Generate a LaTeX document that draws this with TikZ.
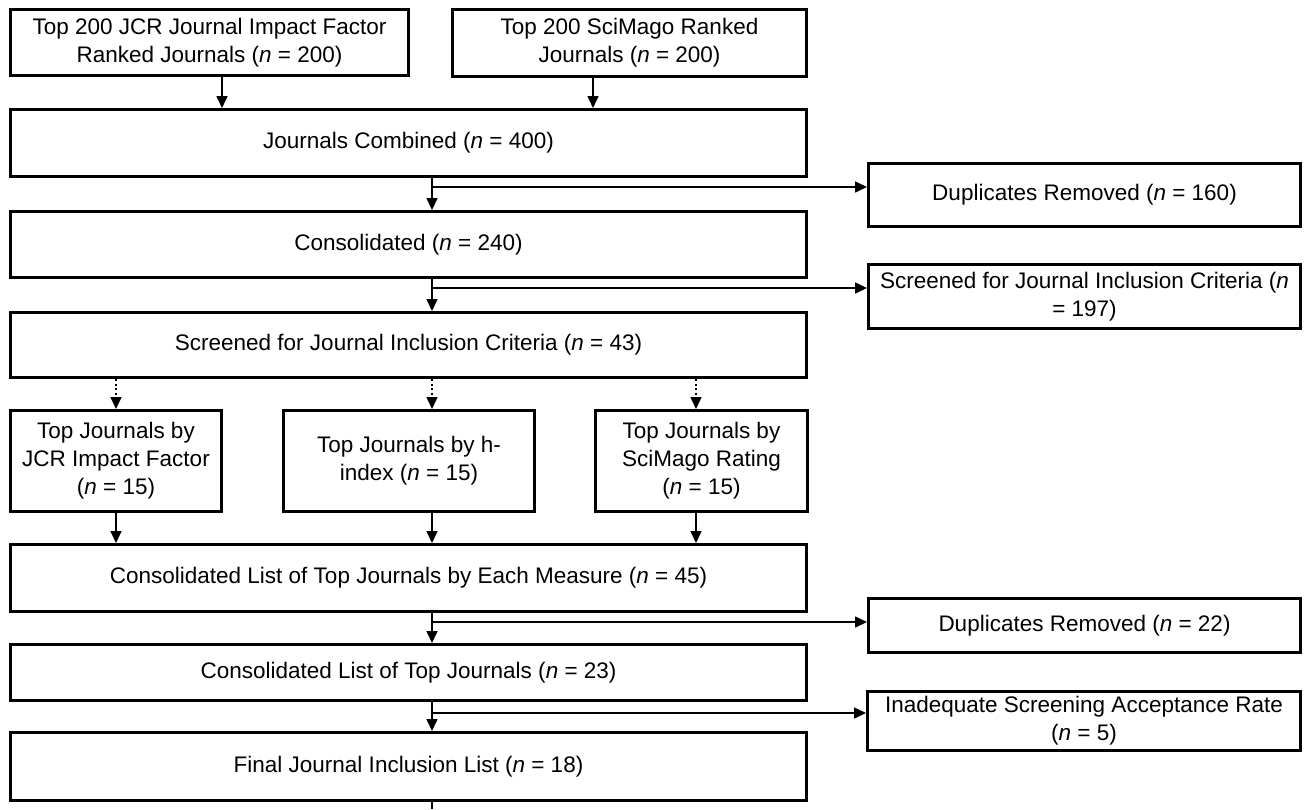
\documentclass[tikz,border=0pt]{standalone}
\usepackage{fontspec}
\setmainfont{Liberation Sans}
\usetikzlibrary{arrows.meta}
\tikzset{
	flowbox/.style={draw=black, line width=3pt, align=center, inner sep=2pt, font=\fontsize{22.5}{28}\selectfont},
	arr/.style={line width=1.6pt, -{Triangle[length=12pt,width=11pt]}},
	dotarr/.style={arr, dash pattern=on 2pt off 2.5pt},
}

\begin{document}
\begin{tikzpicture}[x=1pt, y=-1pt]
			%%%%% START %%%%%
			\useasboundingbox (0, 0) rectangle (1314, 809);
			
			\coordinate (main) at (432, 0);
			\coordinate (colJ) at (222, 0);
			\coordinate (colS) at (593, 0);
			\coordinate (colA) at (116, 0);
			\coordinate (colC) at (696, 0);
			
			\node[flowbox, minimum width=398, minimum height=66] (jcr) at (209.5, 42.5) {Top 200 JCR Journal Impact Factor\\Ranked Journals (\textit{n} = 200)};
			\node[flowbox, minimum width=354, minimum height=67] (sci) at (629.5, 43) {Top 200 SciMago Ranked\\Journals (\textit{n} = 200)};
			
			\node[flowbox, minimum width=796, minimum height=67] (comb) at (408.5, 143) {Journals Combined (\textit{n} = 400)};
			\node[flowbox, minimum width=432, minimum height=63] (dup1) at (1084.5, 195) {Duplicates Removed (\textit{n} = 160)};
			\node[flowbox, minimum width=796, minimum height=66] (cons) at (408.5, 244.5) {Consolidated (\textit{n} = 240)};
			\node[flowbox, minimum width=432, minimum height=64] (scr197) at (1084.5, 296.5) {Screened for Journal Inclusion Criteria (\textit{n}\\= 197)};
			\node[flowbox, minimum width=796, minimum height=65] (scr43) at (408.5, 345) {Screened for Journal Inclusion Criteria (\textit{n} = 43)};
			
			\node[flowbox, minimum width=211, minimum height=101] (topA) at (116, 461) {Top Journals by\\JCR Impact Factor\\(\textit{n} = 15)};
			\node[flowbox, minimum width=251, minimum height=101] (topB) at (409, 461) {Top Journals by h-\\index (\textit{n} = 15)};
			\node[flowbox, minimum width=212, minimum height=101] (topC) at (701.5, 461) {Top Journals by\\SciMago Rating\\(\textit{n} = 15)};
			
			\node[flowbox, minimum width=796, minimum height=67] (list45) at (408.5, 578) {Consolidated List of Top Journals by Each Measure (\textit{n} = 45)};
			\node[flowbox, minimum width=432, minimum height=54] (dup2) at (1084.5, 625.5) {Duplicates Removed (\textit{n} = 22)};
			\node[flowbox, minimum width=796, minimum height=56] (list23) at (408.5, 672.5) {Consolidated List of Top Journals (\textit{n} = 23)};
			\node[flowbox, minimum width=433, minimum height=59] (inad) at (1084, 721) {Inadequate Screening Acceptance Rate\\(\textit{n} = 5)};
			\node[flowbox, minimum width=796, minimum height=68] (final) at (408.5, 766.5) {Final Journal Inclusion List (\textit{n} = 18)};
			
			\coordinate (stub) at (432, 809);
			
			\draw[arr] (jcr.south -| colJ) -- (comb.north -| colJ);
			\draw[arr] (sci.south -| colS) -- (comb.north -| colS);
			
			\draw[arr] (comb.south -| main) -- (cons.north -| main);
			\draw[arr] (comb.south -| main) |- ([yshift=8pt]dup1.west);
			\draw[arr] (cons.south -| main) -- (scr43.north -| main);
			\draw[arr] (cons.south -| main) |- ([yshift=8.5pt]scr197.west);
			
			\draw[dotarr] (scr43.south -| colA) -- (topA.north -| colA);
			\draw[dotarr] (scr43.south -| main) -- (topB.north -| main);
			\draw[dotarr] (scr43.south -| colC) -- (topC.north -| colC);
			
			\draw[arr] (topA.south -| colA) -- (list45.north -| colA);
			\draw[arr] (topB.south -| main) -- (list45.north -| main);
			\draw[arr] (topC.south -| colC) -- (list45.north -| colC);
			
			\draw[arr] (list45.south -| main) -- (list23.north -| main);
			\draw[arr] (list45.south -| main) |- ([yshift=3.5pt]dup2.west);
			\draw[arr] (list23.south -| main) -- (final.north -| main);
			\draw[arr] (list23.south -| main) |- ([yshift=8pt]inad.west);
			
			\draw[line width=1.6pt] (final.south -| main) -- (stub);
			%%%%% END %%%%%
\end{tikzpicture}
\end{document}
